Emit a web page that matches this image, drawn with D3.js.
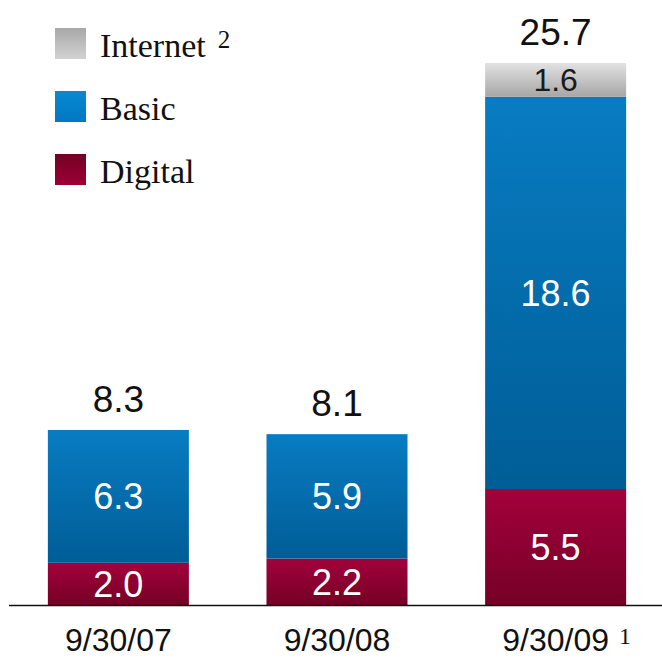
<!DOCTYPE html>
<html>
<head>
<meta charset="utf-8">
<script src="https://cdn.jsdelivr.net/npm/d3@7"></script>
<style>
  html, body { margin: 0; padding: 0; background: #ffffff; }
  svg { display: block; }
</style>
</head>
<body>
<svg id="chart" width="662" height="665"></svg>
<script>
// Subscriber counts (millions) per reporting date, stacked bottom to top
const categories = ["9/30/07", "9/30/08", "9/30/09"];
const categoryNotes = ["", "", "1"];
const digital = [2.0, 2.2, 5.5];
const basic = [6.3, 5.9, 18.6];
const internet = [null, null, 1.6];
const totals = [8.3, 8.1, 25.7];

const seriesNames = ["Internet", "Basic", "Digital"];
const seriesNotes = ["2", "", ""];

const W = 662, H = 665;
const baseY = 605;
const svg = d3.select("#chart");
const defs = svg.append("defs");

function vGrad(id, stops) {
  const g = defs.append("linearGradient").attr("id", id)
    .attr("x1", 0).attr("y1", 0).attr("x2", 0).attr("y2", 1);
  stops.forEach(([o, c]) => g.append("stop").attr("offset", o).attr("stop-color", c));
}
vGrad("gBasic", [[0, "#087cc2"], [1, "#005d96"]]);
vGrad("gDigital", [[0, "#a3013b"], [1, "#750026"]]);
vGrad("gInternet", [[0, "#e2e2e2"], [1, "#a6a6a6"]]);
vGrad("lInternet", [[0, "#a8a8a8"], [1, "#d2d2d2"]]);
vGrad("lBasic", [[0, "#0a88d2"], [1, "#0078c4"]]);
vGrad("lDigital", [[0, "#730024"], [1, "#9c0036"]]);

const x = d3.scaleBand().domain(categories).range([26, 648])
  .paddingInner(0.355).paddingOuter(0.1);
const y = d3.scaleLinear().domain([0, d3.max(totals)]).range([baseY, 63]);

const rows = categories.map((c, i) => ({
  cat: c, Digital: digital[i], Basic: basic[i], Internet: internet[i] || 0
}));
const stack = d3.stack().keys(["Digital", "Basic", "Internet"]);
const layers = stack(rows);

const fills = { Digital: "url(#gDigital)", Basic: "url(#gBasic)", Internet: "url(#gInternet)" };
const textFill = { Digital: "#ffffff", Basic: "#ffffff", Internet: "#1a1a1a" };
const textSize = { Digital: 36, Basic: 36, Internet: 32 };

const sans = "'Liberation Sans', Arial, Helvetica, sans-serif";
const serif = "'Liberation Serif', 'Times New Roman', serif";

layers.forEach(layer => {
  const key = layer.key;
  const g = svg.append("g");
  layer.forEach((d, i) => {
    const v = d[1] - d[0];
    if (!v) return;
    const x0 = x(d.data.cat), bw = x.bandwidth();
    const yTop = y(d[1]), yBot = y(d[0]);
    g.append("rect")
      .attr("x", x0).attr("y", yTop)
      .attr("width", bw).attr("height", yBot - yTop)
      .attr("fill", fills[key]);
    const fs = textSize[key];
    g.append("text")
      .attr("x", x0 + bw / 2)
      .attr("y", (yTop + yBot) / 2 + fs * 0.36)
      .attr("text-anchor", "middle")
      .attr("font-family", sans)
      .attr("font-size", fs)
      .attr("fill", textFill[key])
      .text(v.toFixed(1));
  });
});

// Totals above each bar
svg.append("g").selectAll("text").data(categories).join("text")
  .attr("x", d => x(d) + x.bandwidth() / 2)
  .attr("y", (d, i) => y(totals[i]) - 18)
  .attr("text-anchor", "middle")
  .attr("font-family", sans)
  .attr("font-size", 37)
  .attr("fill", "#111")
  .text((d, i) => totals[i].toFixed(1));

// Baseline
svg.append("line")
  .attr("x1", 9).attr("x2", W)
  .attr("y1", baseY + 0.5).attr("y2", baseY + 0.5)
  .attr("stroke", "#111").attr("stroke-width", 1.6);

// Category axis labels (no ticks, no domain line)
const xAxis = svg.append("g")
  .attr("transform", `translate(0,${baseY})`)
  .call(d3.axisBottom(x).tickSize(0).tickPadding(0));
xAxis.select(".domain").remove();
xAxis.selectAll(".tick text")
  .attr("y", 46)
  .attr("dy", 0)
  .attr("font-family", sans)
  .attr("font-size", 32)
  .attr("fill", "#111");
xAxis.selectAll(".tick").each(function (d, i) {
  if (!categoryNotes[i]) return;
  const t = d3.select(this).select("text");
  const w = t.node().getComputedTextLength();
  d3.select(this).append("text")
    .attr("x", w / 2 + 10).attr("y", 39)
    .attr("text-anchor", "start")
    .attr("font-family", serif)
    .attr("font-size", 24)
    .attr("fill", "#111")
    .text(categoryNotes[i]);
});

// Legend
const legendFills = ["url(#lInternet)", "url(#lBasic)", "url(#lDigital)"];
const legend = svg.append("g");
seriesNames.forEach((name, i) => {
  const yy = 28 + i * 63;
  legend.append("rect")
    .attr("x", 55).attr("y", yy)
    .attr("width", 31).attr("height", 31)
    .attr("fill", legendFills[i]);
  const t = legend.append("text")
    .attr("x", 100).attr("y", yy + 29)
    .attr("font-family", serif)
    .attr("font-size", 34)
    .attr("fill", "#111")
    .text(name);
  if (seriesNotes[i]) {
    const w = t.node().getComputedTextLength();
    legend.append("text")
      .attr("x", 100 + w + 12).attr("y", yy + 20)
      .attr("font-family", serif)
      .attr("font-size", 25)
      .attr("fill", "#111")
      .text(seriesNotes[i]);
  }
});
</script>
</body>
</html>
